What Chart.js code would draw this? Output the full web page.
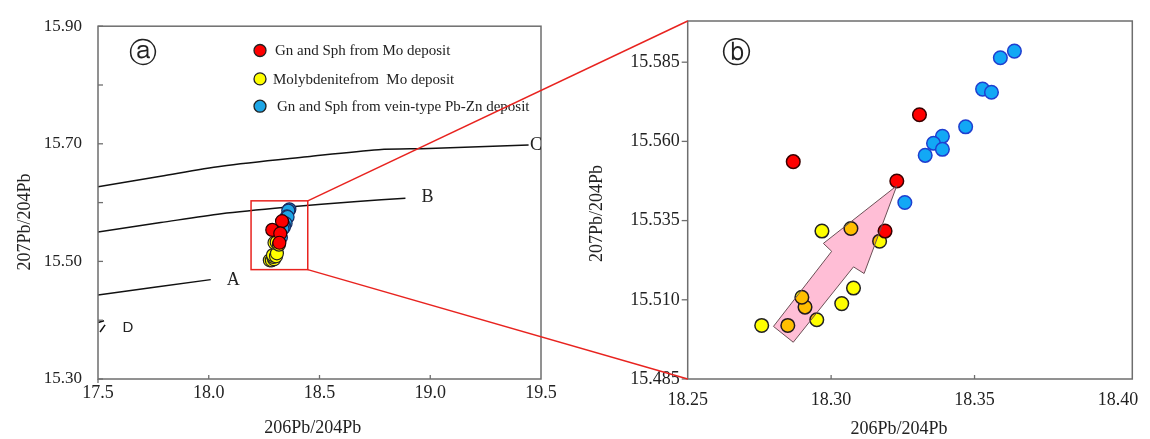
<!DOCTYPE html>
<html><head><meta charset="utf-8">
<script src="https://cdn.jsdelivr.net/npm/chart.js@4.4.1/dist/chart.umd.min.js"></script>
<style>
html,body{margin:0;padding:0;background:#fff;}
#wrap{position:relative;width:1150px;height:439px;overflow:hidden;background:#fff;}
canvas{position:absolute;top:0;}
#ca{left:0;} #cb{left:560px;} #ov{left:0;pointer-events:none;}
</style></head><body>
<div id="wrap">
<canvas id="ca" width="560" height="439"></canvas>
<canvas id="cb" width="590" height="439"></canvas>
<canvas id="ov" width="1150" height="439"></canvas>
</div>
<script>
const SERIF = '"Liberation Serif", "Times New Roman", serif';
const SANS = '"Liberation Sans", Arial, sans-serif';

// ---- series ----
const seriesNames = ['Gn and Sph from Mo deposit', 'Molybdenitefrom  Mo deposit', 'Gn and Sph from vein-type Pb-Zn deposit'];
const redX = [18.3308, 18.2868, 18.3229, 18.3188];
const redY = [15.5684, 15.5536, 15.5475, 15.5317];
const yellowX = [18.2758, 18.2849, 18.2950, 18.2909, 18.2898, 18.3037, 18.3078, 18.2968, 18.3069, 18.3169];
const yellowY = [15.5019, 15.5019, 15.5037, 15.5077, 15.5108, 15.5088, 15.5137, 15.5317, 15.5325, 15.5285];
const blueX = [18.3639, 18.3590, 18.3528, 18.3559, 18.3469, 18.3388, 18.3357, 18.3388, 18.3328, 18.3257];
const blueY = [15.5885, 15.5864, 15.5765, 15.5755, 15.5646, 15.5616, 15.5594, 15.5575, 15.5556, 15.5407];

// ---- growth curves (panel a) ----
const curveNames = ['A', 'B', 'C', 'D'];
const curveAX = [17.5, 18.009];
const curveAY = [15.443, 15.469];
const curveBX = [17.5, 17.783, 18.057, 18.347, 18.670, 18.888];
const curveBY = [15.550, 15.566, 15.581, 15.592, 15.602, 15.6075];
const curveCX = [17.5, 17.783, 18.057, 18.444, 18.767, 18.993, 19.444];
const curveCY = [15.627, 15.645, 15.662, 15.678, 15.690, 15.692, 15.698];
const curveD1X = [17.501, 17.527];
const curveD1Y = [15.396, 15.399];
const curveD2X = [17.509, 17.532];
const curveD2Y = [15.380, 15.392];
const curveLabelX = [18.111, 18.988, 19.477, 17.635];
const curveLabelY = [15.468, 15.609, 15.698, 15.387];

// ---- zoom box and trend arrow ----
const zoomBoxX = [18.191, 18.447];
const zoomBoxY = [15.486, 15.603];
const arrowX = [18.2799, 18.2868, 18.3078, 18.3115, 18.3229, 18.2973, 18.3002];
const arrowY = [15.5016, 15.4966, 15.5204, 15.5183, 15.5460, 15.5278, 15.5253];

// ---- ticks ----
const aXTicks = [17.5, 18.0, 18.5, 19.0, 19.5];
const aYTicks = [15.30, 15.50, 15.70, 15.90];
const aYMinor = [15.40, 15.60, 15.80];
const bXTicks = [18.25, 18.30, 18.35, 18.40];
const bYTicks = [15.485, 15.510, 15.535, 15.560, 15.585];
const axisTitleX = '206Pb/204Pb';
const axisTitleY = '207Pb/204Pb';

const zip = (xs, ys) => xs.map((x, i) => ({x: x, y: ys[i]}));

function line(ctx, x1, y1, x2, y2) { ctx.beginPath(); ctx.moveTo(x1, y1); ctx.lineTo(x2, y2); ctx.stroke(); }

function frame(chart) {
  const {ctx, chartArea: a} = chart;
  ctx.save(); ctx.strokeStyle = '#6e6e6e'; ctx.lineWidth = 1.5;
  ctx.strokeRect(a.left, a.top, a.right - a.left, a.bottom - a.top);
  ctx.restore();
}
function titles(chart, xOff, xDy, yX, yDy) {
  const {ctx, chartArea: a} = chart;
  ctx.save(); ctx.fillStyle = '#222'; ctx.font = '18px ' + SERIF;
  ctx.textAlign = 'center'; ctx.textBaseline = 'middle';
  ctx.fillText(axisTitleX, (a.left + a.right) / 2 + xOff, a.bottom + xDy);
  ctx.translate(yX, (a.top + a.bottom) / 2 + yDy); ctx.rotate(-Math.PI / 2);
  ctx.fillText(axisTitleY, 0, 0);
  ctx.restore();
}

const decorA = {
  id: 'decorA',
  afterDatasetsDraw(chart) {
    const {ctx, chartArea: a, scales: {x, y}} = chart;
    frame(chart);
    ctx.save();
    ctx.strokeStyle = '#6e6e6e'; ctx.lineWidth = 1.3;
    aYTicks.concat(aYMinor).forEach(v => { const p = y.getPixelForValue(v); line(ctx, a.left, p, a.left + 5, p); });
    aXTicks.slice(1, -1).forEach(v => { const p = x.getPixelForValue(v); line(ctx, p, a.bottom, p, a.bottom - 4); });
    line(ctx, a.left, a.bottom, a.left, a.bottom + 4);
    // curve labels
    ctx.fillStyle = '#222'; ctx.textAlign = 'center'; ctx.textBaseline = 'middle';
    curveNames.forEach((n, i) => {
      ctx.font = (n === 'D' ? '15px ' + SANS : '18px ' + SERIF);
      ctx.fillText(n, x.getPixelForValue(curveLabelX[i]), y.getPixelForValue(curveLabelY[i]));
    });
    // zoom box
    ctx.strokeStyle = '#e8231f'; ctx.lineWidth = 1.5;
    const l = x.getPixelForValue(zoomBoxX[0]), r = x.getPixelForValue(zoomBoxX[1]);
    const t = y.getPixelForValue(zoomBoxY[1]), b = y.getPixelForValue(zoomBoxY[0]);
    ctx.strokeRect(l, t, r - l, b - t);
    // legend
    const cols = ['#ff0000', '#ffff00', '#1ea6e6'];
    const offs = [24.3, 52.7, 80];
    const tx = [177, 175, 179];
    ctx.textAlign = 'left'; ctx.font = '15px ' + SERIF;
    seriesNames.forEach((s, i) => {
      ctx.beginPath(); ctx.arc(a.left + 162, a.top + offs[i], 6, 0, Math.PI * 2);
      ctx.fillStyle = cols[i]; ctx.fill(); ctx.strokeStyle = '#222'; ctx.lineWidth = 1.3; ctx.stroke();
      ctx.fillStyle = '#222'; ctx.fillText(s, a.left + tx[i], a.top + offs[i] + 1);
    });
    // panel letter
    ctx.font = '28px "DejaVu Sans"'; ctx.textAlign = 'center';
    ctx.fillText('\u24D0', a.left + 45, a.top + 29);
    ctx.restore();
    titles(chart, -6.8, 49, 25, 19.5);
  }
};

const decorB = {
  id: 'decorB',
  afterDatasetsDraw(chart) {
    const {ctx, chartArea: a, scales: {x, y}} = chart;
    // trend arrow (multiply blend so covered points turn orange)
    ctx.save();
    ctx.beginPath();
    arrowX.forEach((v, i) => {
      const px = x.getPixelForValue(v), py = y.getPixelForValue(arrowY[i]);
      if (i === 0) ctx.moveTo(px, py); else ctx.lineTo(px, py);
    });
    ctx.closePath();
    ctx.globalCompositeOperation = 'multiply';
    ctx.fillStyle = '#ffbed6'; ctx.fill();
    ctx.globalCompositeOperation = 'source-over';
    ctx.strokeStyle = '#6b5056'; ctx.lineWidth = 1; ctx.stroke();
    ctx.restore();
    frame(chart);
    ctx.save();
    ctx.strokeStyle = '#6e6e6e'; ctx.lineWidth = 1.3;
    bYTicks.forEach(v => { const p = y.getPixelForValue(v); line(ctx, a.left - 6, p, a.left, p); });
    bXTicks.slice(1, -1).forEach(v => { const p = x.getPixelForValue(v); line(ctx, p, a.bottom, p, a.bottom - 4); });
    ctx.fillStyle = '#222'; ctx.font = '29px "DejaVu Sans"'; ctx.textAlign = 'center'; ctx.textBaseline = 'middle';
    ctx.fillText('\u24D1', a.left + 49, a.top + 33);
    ctx.restore();
    titles(chart, -11, 50, 37.6, 13.5);
  }
};

function fixedTicks(arr) { return s => { s.ticks = arr.map(v => ({value: v})); }; }
const tickFont = (sz) => ({family: SERIF, size: sz});

const curveStyle = {type: 'line', showLine: true, pointRadius: 0, borderColor: '#111', borderWidth: 1.5, tension: 0.3, fill: false, order: 5};

const chartA = new Chart(document.getElementById('ca'), {
  type: 'scatter',
  data: {
    datasets: [
      {label: seriesNames[0], data: zip(redX, redY), backgroundColor: '#ff0000', borderColor: '#2a0000', borderWidth: 1.2, pointRadius: 6.5, order: 0},
      {label: seriesNames[1], data: zip(yellowX, yellowY), backgroundColor: '#ffff00', borderColor: '#222', borderWidth: 1.2, pointRadius: 6.5, order: 1},
      {label: seriesNames[2], data: zip(blueX, blueY), backgroundColor: '#1ea6e6', borderColor: '#1a2a60', borderWidth: 1.2, pointRadius: 6.5, order: 2},
      Object.assign({label: curveNames[0], data: zip(curveAX, curveAY)}, curveStyle),
      Object.assign({label: curveNames[1], data: zip(curveBX, curveBY)}, curveStyle),
      Object.assign({label: curveNames[2], data: zip(curveCX, curveCY)}, curveStyle),
      Object.assign({label: curveNames[3], data: zip(curveD1X, curveD1Y)}, curveStyle, {tension: 0}),
      Object.assign({label: curveNames[3] + '2', data: zip(curveD2X, curveD2Y)}, curveStyle, {tension: 0})
    ]
  },
  options: {
    responsive: false, animation: false, devicePixelRatio: 1,
    layout: {padding: {left: 0, right: 19, top: 20, bottom: 0}},
    plugins: {legend: {display: false}, tooltip: {enabled: false}},
    scales: {
      x: {type: 'linear', min: 17.5, max: 19.5, afterBuildTicks: fixedTicks(aXTicks),
          afterFit: s => { s.height = 60; },
          ticks: {callback: v => Number(v).toFixed(1), font: tickFont(18), color: '#222', padding: 3, maxRotation: 0, autoSkip: false},
          grid: {display: false, drawTicks: false, tickLength: 0}, border: {display: false}},
      y: {type: 'linear', min: 15.30, max: 15.90, afterBuildTicks: fixedTicks(aYTicks),
          afterFit: s => { s.width = 98; },
          ticks: {callback: v => Number(v).toFixed(2), font: tickFont(17), color: '#222', padding: 16, autoSkip: false},
          grid: {display: false, drawTicks: false, tickLength: 0}, border: {display: false}}
    }
  },
  plugins: [decorA]
});

const chartB = new Chart(document.getElementById('cb'), {
  type: 'scatter',
  data: {
    datasets: [
      {label: seriesNames[0], data: zip(redX, redY), backgroundColor: '#ff0000', borderColor: '#3a0000', borderWidth: 1.5, pointRadius: 6.8, order: 0},
      {label: seriesNames[1], data: zip(yellowX, yellowY), backgroundColor: '#ffff00', borderColor: '#222', borderWidth: 1.5, pointRadius: 6.8, order: 1},
      {label: seriesNames[2], data: zip(blueX, blueY), backgroundColor: '#12a8f5', borderColor: '#1f3fd0', borderWidth: 1.5, pointRadius: 6.8, order: 2}
    ]
  },
  options: {
    responsive: false, animation: false, devicePixelRatio: 1,
    layout: {padding: {left: 0, right: 17.7, top: 21, bottom: 0}},
    plugins: {legend: {display: false}, tooltip: {enabled: false}},
    scales: {
      x: {type: 'linear', min: 18.25, max: 18.405, afterBuildTicks: fixedTicks(bXTicks),
          afterFit: s => { s.height = 60; },
          ticks: {callback: v => Number(v).toFixed(2), font: tickFont(18), color: '#222', padding: 10, maxRotation: 0, autoSkip: false},
          grid: {display: false, drawTicks: false, tickLength: 0}, border: {display: false}},
      y: {type: 'linear', min: 15.485, max: 15.598, afterBuildTicks: fixedTicks(bYTicks),
          afterFit: s => { s.width = 127.7; },
          ticks: {callback: v => Number(v).toFixed(3), font: tickFont(18), color: '#222', padding: 8, autoSkip: false},
          grid: {display: false, drawTicks: false, tickLength: 0}, border: {display: false}}
    }
  },
  plugins: [decorB]
});

// connector lines from the zoom box in (a) to the frame of (b)
(function () {
  const ctx = document.getElementById('ov').getContext('2d');
  const offA = 0, offB = 560;
  const ax = chartA.scales.x, ay = chartA.scales.y, bx = chartB.scales.x, by = chartB.scales.y;
  const sx = offA + ax.getPixelForValue(zoomBoxX[1]);
  const sTop = ay.getPixelForValue(zoomBoxY[1]), sBot = ay.getPixelForValue(zoomBoxY[0]);
  const ex = offB + bx.getPixelForValue(bx.min);
  const eTop = by.getPixelForValue(by.max), eBot = by.getPixelForValue(by.min);
  ctx.strokeStyle = '#e8231f'; ctx.lineWidth = 1.5;
  line(ctx, sx, sTop, ex, eTop);
  line(ctx, sx, sBot, ex, eBot);
})();
</script>
</body></html>
